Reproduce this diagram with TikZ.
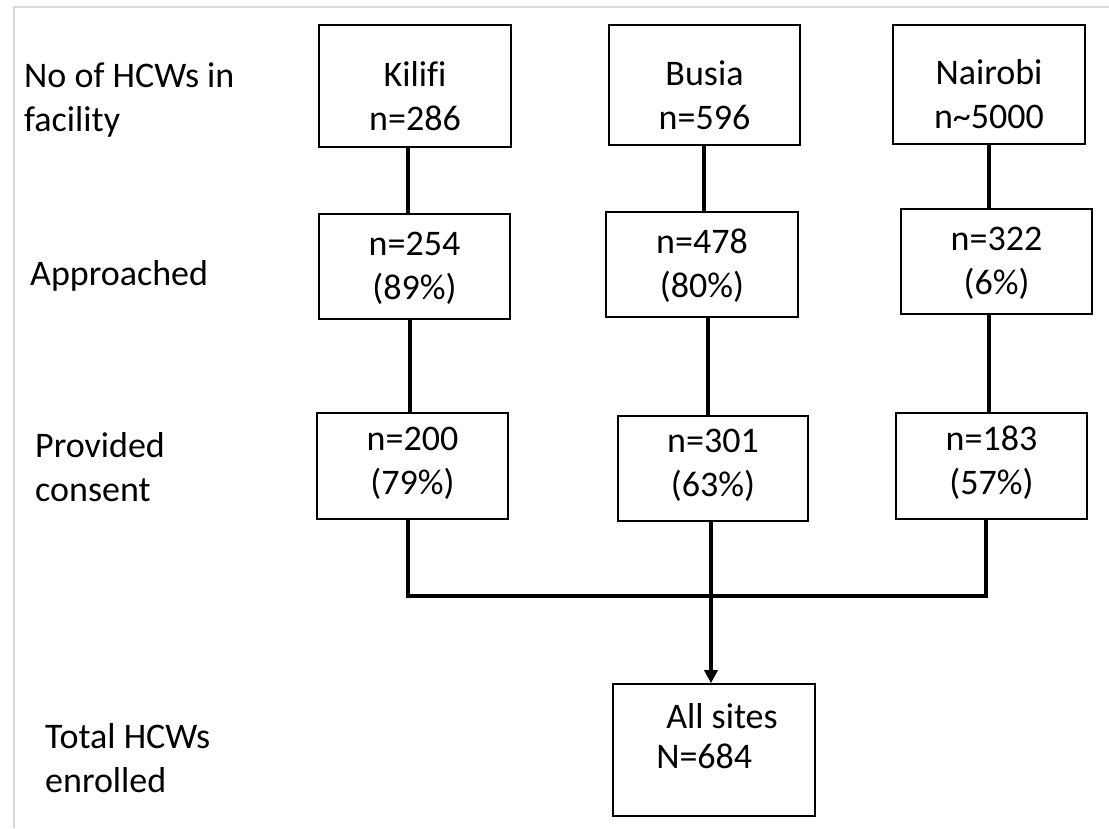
\documentclass[tikz,border=0pt]{standalone}
\usepackage{fontspec}
\setmainfont[Ligatures=NoCommon]{Carlito}
\usetikzlibrary{arrows.meta}
\newcommand{\bxt}[3][22pt]{\raisebox{0pt}[0pt][#1]{\begin{tabular}[t]{@{}c@{}}#2\\#3\end{tabular}}}
\begin{document}
\begin{tikzpicture}[x=1pt,y=-1pt,
  txt/.style={font=\fontsize{36}{44}\selectfont},
  box/.style={txt, draw=black, line width=1.6pt, inner sep=0pt},
  conn/.style={line width=3.6pt},
  lbl/.style={txt, anchor=base west, inner sep=0pt}]
\useasboundingbox (0,0) rectangle (1109,828);
\fill[white] (0,0) rectangle (1109,828);
\draw[gray!30, line width=2pt] (14,828) -- (14,7) -- (1109,7);

% row labels
\node[lbl] (l1) at (24,87) {\begin{tabular}[t]{@{}l@{}}No of HCWs in\\facility\end{tabular}};
\node[lbl] (l2) at (30,285) {Approached};
\node[lbl] (l3) at (35,457) {\begin{tabular}[t]{@{}l@{}}Provided\\consent\end{tabular}};
\node[lbl] (l4) at (45,748) {\begin{tabular}[t]{@{}l@{}}Total HCWs\\enrolled\end{tabular}};

% boxes
\node[box, minimum width=192pt, minimum height=122pt] (k1) at (415,86) {\bxt[0pt]{Kilifi}{n=286}};
\node[box, minimum width=191pt, minimum height=120pt] (b1) at (704.5,85) {\bxt[0pt]{Busia}{n=596}};
\node[box, minimum width=192pt, minimum height=119pt] (n1) at (989,84.5) {\bxt[0pt]{Nairobi}{n\textasciitilde 5000}};

\node[box, minimum width=191pt, minimum height=105pt] (k2) at (414.5,266.5) {\bxt{n=254}{(89\%)}};
\node[box, minimum width=192pt, minimum height=105pt] (b2) at (702,264.5) {\bxt{n=478}{(80\%)}};
\node[box, minimum width=191pt, minimum height=105pt] (n2) at (996.5,261.5) {\bxt{n=322}{(6\%)}};

\node[box, minimum width=191pt, minimum height=106pt] (k3) at (412.5,466) {\bxt[32pt]{n=200}{(79\%)}};
\node[box, minimum width=190pt, minimum height=105pt] (b3) at (713,468.5) {\bxt[32pt]{n=301}{(63\%)}};
\node[box, minimum width=191pt, minimum height=106pt] (n3) at (991.5,466) {\bxt[32pt]{n=183}{(57\%)}};

\node[box, minimum width=202pt, minimum height=132pt] (t) at (714,750)
  {\raisebox{0pt}[0pt][44pt]{\begin{tabular}[t]{@{\hspace{6pt}}l@{}}\hspace{10pt}All sites\\[-4pt]N=684\end{tabular}}};

% connector x positions
\coordinate (ka) at (408,0);
\coordinate (kb) at (410,0);
\coordinate (kc) at (408,0);
\coordinate (ba) at (704,0);
\coordinate (bb) at (708,0);
\coordinate (bc) at (711,0);
\coordinate (na) at (989,0);
\coordinate (nb) at (989,0);
\coordinate (nc) at (986,0);
\coordinate (hy) at (0,596);

\draw[conn] (k1.south -| ka) -- (k2.north -| ka);
\draw[conn] (k2.south -| kb) -- (k3.north -| kb);
\draw[conn] (b1.south -| ba) -- (b2.north -| ba);
\draw[conn] (b2.south -| bb) -- (b3.north -| bb);
\draw[conn] (n1.south -| na) -- (n2.north -| na);
\draw[conn] (n2.south -| nb) -- (n3.north -| nb);

\draw[conn] (k3.south -| kc) -- (kc |- hy) -- (nc |- hy) -- (n3.south -| nc);
\draw[conn, -{Triangle[length=13pt,width=13pt]}] (b3.south -| bc) -- (bc |- t.north);
\end{tikzpicture}
\end{document}
